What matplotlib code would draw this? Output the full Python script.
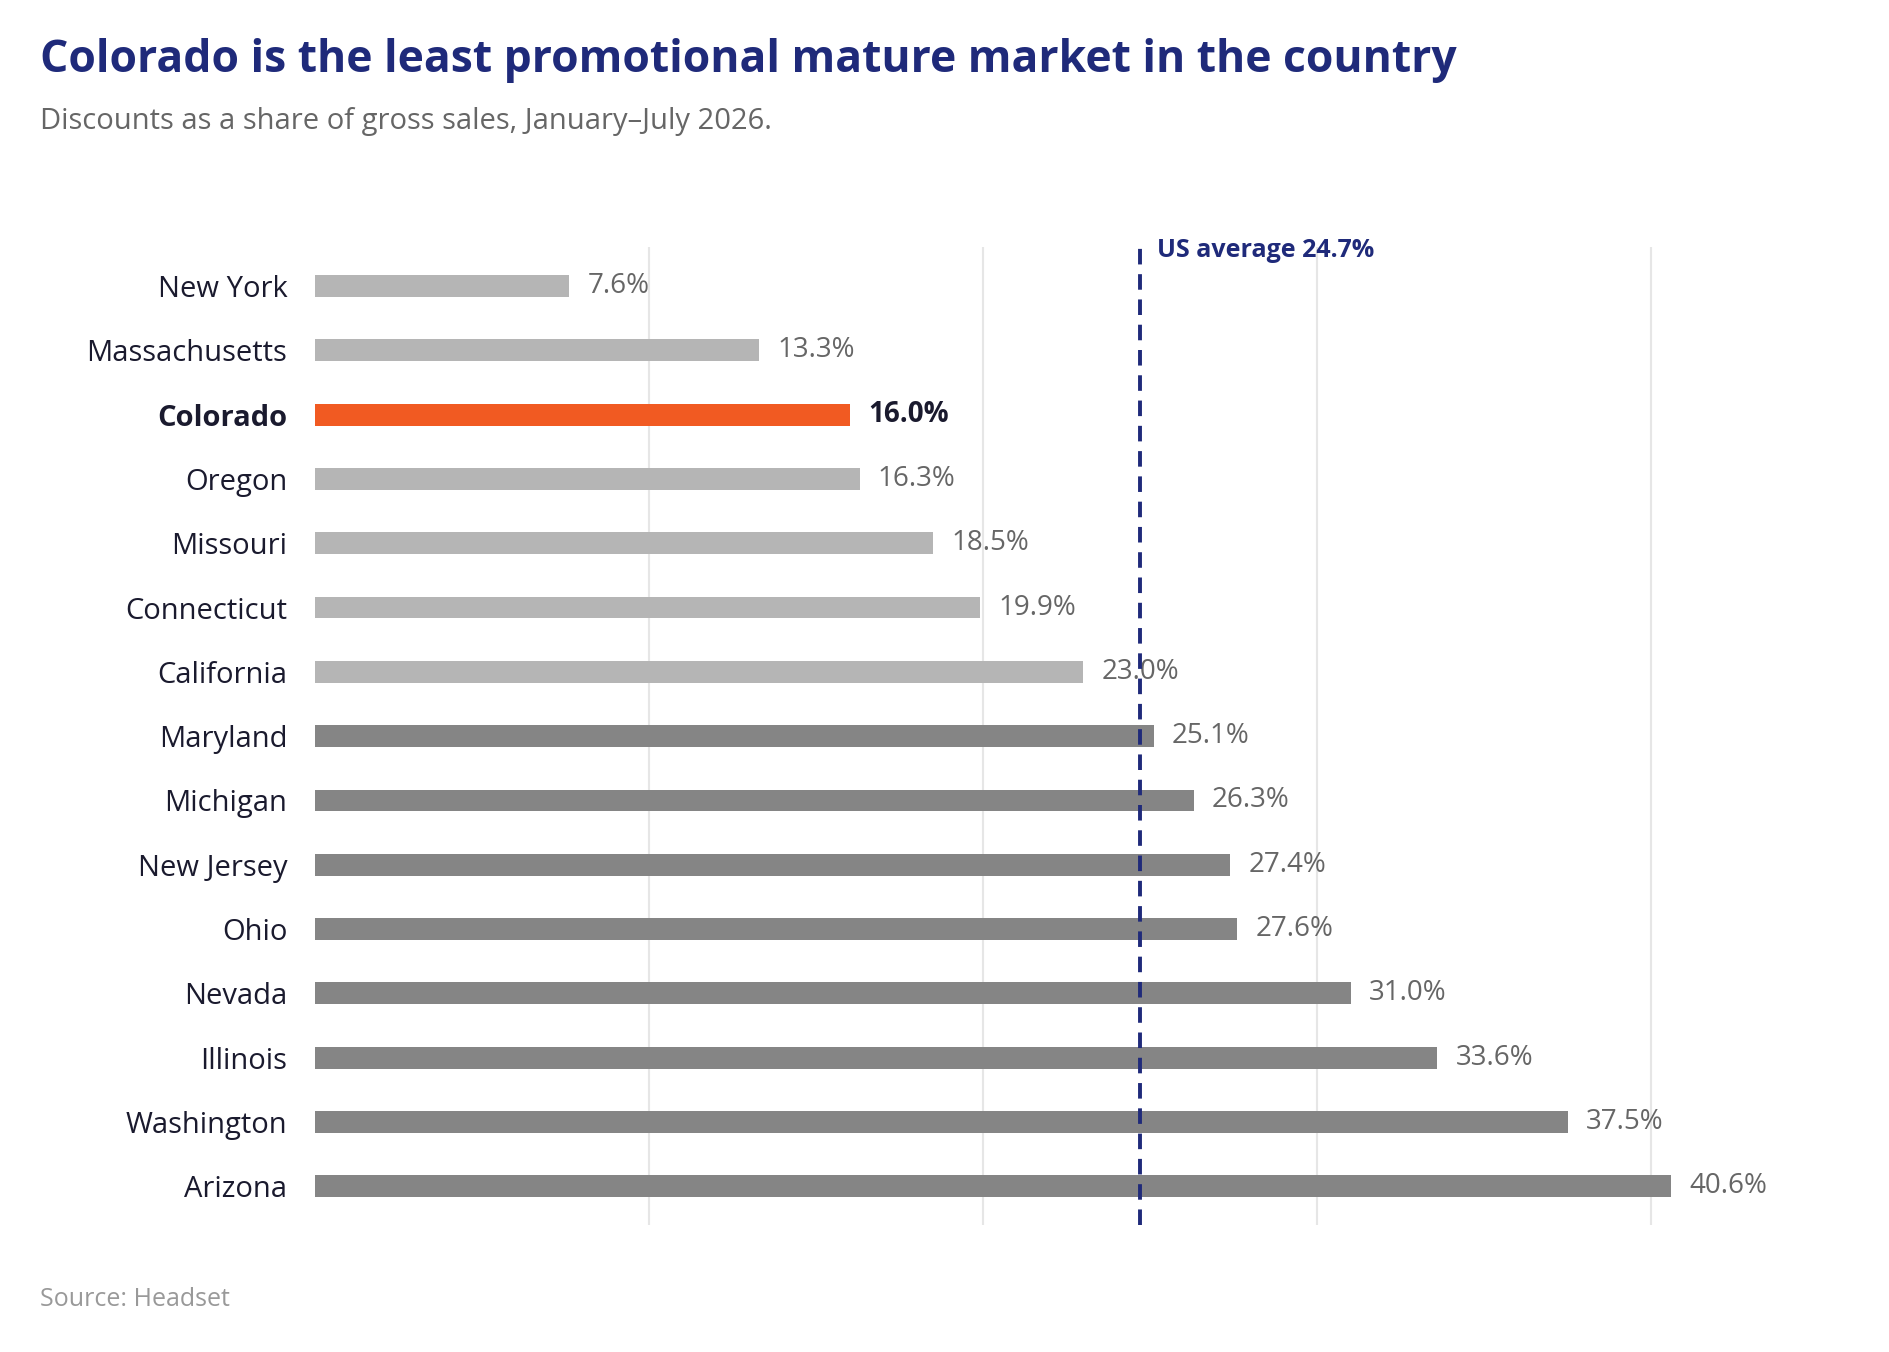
import matplotlib.pyplot as plt

states = ["New York", "Massachusetts", "Colorado", "Oregon", "Missouri", "Connecticut",
          "California", "Maryland", "Michigan", "New Jersey", "Ohio", "Nevada",
          "Illinois", "Washington", "Arizona"]
values = [7.6, 13.3, 16.0, 16.3, 18.5, 19.9, 23.0, 25.1, 26.3, 27.4, 27.6, 31.0, 33.6, 37.5, 40.6]
us_avg = 24.7

navy = "#1f2a7a"
plt.rcParams['font.family'] = ['Open Sans', 'DejaVu Sans']

fig = plt.figure(figsize=(18.9, 13.52), dpi=100)
ax = fig.add_axes([0.1667, 0.094, 0.76, 0.723])

ypos = list(range(len(states)))
colors = []
for s, v in zip(states, values):
    if s == "Colorado":
        colors.append("#f15a22")
    elif v > us_avg:
        colors.append("#858585")
    else:
        colors.append("#b5b5b5")
ax.barh(ypos, values, height=0.34, color=colors, zorder=2)

for y, s, v in zip(ypos, states, values):
    bold = s == "Colorado"
    ax.text(v + 0.55, y, f"{v:.1f}%", va="center", ha="left", fontsize=20,
            color="#1a1a2e" if bold else "#666666", fontweight="bold" if bold else "normal")

ax.set_yticks(ypos)
ax.set_yticklabels(states, fontsize=21, color="#1a1a2e")
for lbl in ax.get_yticklabels():
    if lbl.get_text() == "Colorado":
        lbl.set_fontweight("bold")
ax.tick_params(axis="y", length=0, pad=20)
ax.set_xticks([10, 20, 30, 40])
ax.tick_params(axis="x", length=0, labelbottom=False)
ax.grid(axis="x", color="#e6e6e6", linewidth=1.5, zorder=0)
ax.set_xlim(0, 43)
ax.set_ylim(len(states) - 0.4, -0.6)
for sp in ax.spines.values():
    sp.set_visible(False)

ax.axvline(us_avg, color=navy, linestyle=(0, (4, 2.5)), linewidth=2.8, zorder=3)
ax.text(us_avg + 0.5, -0.55, f"US average {us_avg}%", color=navy, fontsize=18,
        fontweight="bold", va="center", ha="left")

fig.text(0.021, 0.955, "Colorado is the least promotional mature market in the country",
         fontsize=32, fontweight="bold", color=navy, va="center")
fig.text(0.021, 0.91, "Discounts as a share of gross sales, January\u2013July 2026.",
         fontsize=21, color="#666666", va="center")
fig.text(0.021, 0.039, "Source: Headset", fontsize=18, color="#999999", va="center")

fig.savefig("out.png", dpi=100, facecolor="white")
